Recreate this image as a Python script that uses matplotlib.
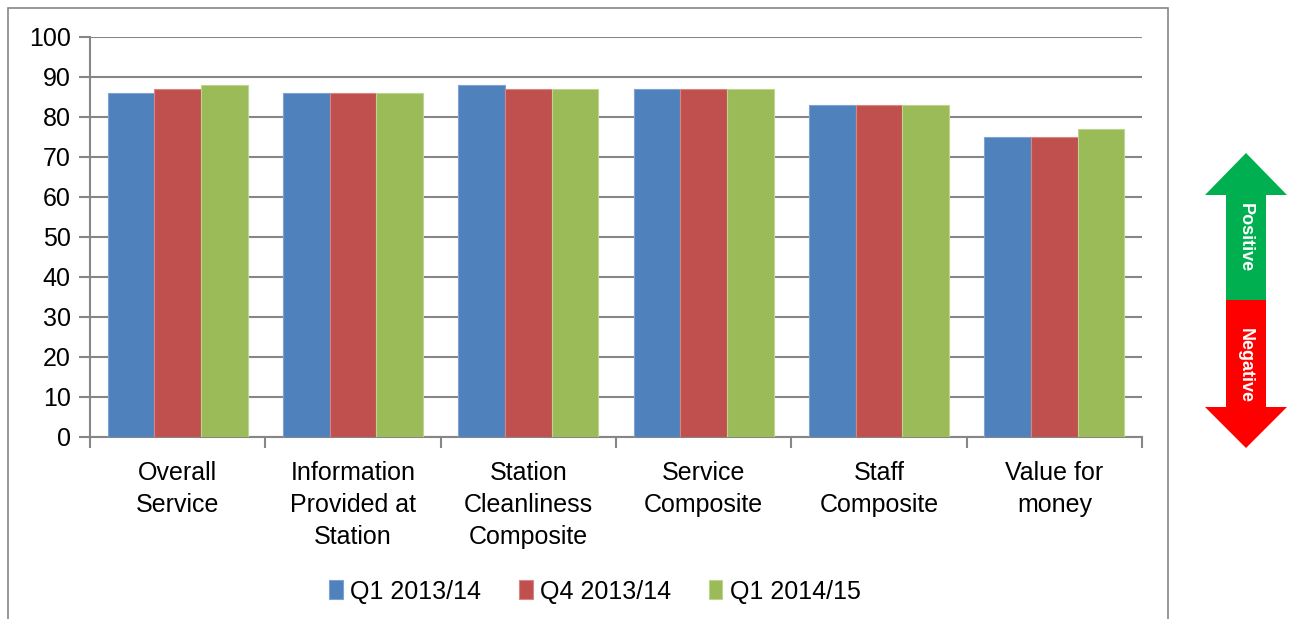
import matplotlib.pyplot as plt
import numpy as np
from matplotlib.patches import Rectangle, Polygon

categories = ['Overall\nService', 'Information\nProvided at\nStation', 'Station\nCleanliness\nComposite',
              'Service\nComposite', 'Staff\nComposite', 'Value for\nmoney']
series_names = ['Q1 2013/14', 'Q4 2013/14', 'Q1 2014/15']
q1_1314 = [86, 86, 88, 87, 83, 75]
q4_1314 = [87, 86, 87, 87, 83, 75]
q1_1415 = [88, 86, 87, 87, 83, 77]
colors = ['#4F81BD', '#C0504D', '#9BBB59']
edges = ['#7FA3D1', '#D98583', '#BDD68F']

plt.rcParams['font.family'] = ['Liberation Sans', 'DejaVu Sans']

fig = plt.figure(figsize=(12.94, 6.19), dpi=100)
# chart border
fig.patches.append(Rectangle((8 / 1294, -0.05), 1160 / 1294, 1.05 - 8 / 619,
                             transform=fig.transFigure, fill=False,
                             edgecolor='#868686', linewidth=1.2))

ax = fig.add_axes([90 / 1294, 1 - 437 / 619, 1052 / 1294, 400 / 619])
x = np.arange(len(categories))
w = 0.8 / 3
for i, vals in enumerate([q1_1314, q4_1314, q1_1415]):
    ax.bar(x + (i - 1) * w, vals, w, color=colors[i], edgecolor=edges[i],
           linewidth=0.8, label=series_names[i], zorder=3)

ax.set_xlim(-0.5, len(categories) - 0.5)
ax.set_ylim(0, 100)
ax.set_yticks(range(0, 101, 10))
ax.yaxis.grid(True, color='#868686', linewidth=1.5, zorder=0)
for s in ['top', 'right']:
    ax.spines[s].set_visible(False)
for s in ['left', 'bottom']:
    ax.spines[s].set_color('#868686')
    ax.spines[s].set_linewidth(1.5)
ax.tick_params(axis='y', labelsize=18, length=8, width=1.5, color='#868686', pad=6)
ax.set_xticks(x)
ax.set_xticklabels(categories, fontsize=18, linespacing=1.42)
ax.tick_params(axis='x', length=0, pad=17)
ax.set_xticks(np.arange(-0.5, len(categories)), minor=True)
ax.tick_params(axis='x', which='minor', length=8, width=1.5, color='#868686')

ax.legend(loc='upper center', bbox_to_anchor=(0.48, -0.30), ncol=3, frameon=False,
          fontsize=18, handlelength=0.55, handleheight=0.8, handletextpad=0.3,
          columnspacing=1.5)

# positive / negative arrow
def fx(px):
    return px / 1294

def fy(py):
    return 1 - py / 619

up = Polygon([(fx(1226), fy(300)), (fx(1226), fy(195)), (fx(1205), fy(195)),
              (fx(1246), fy(153)), (fx(1287), fy(195)), (fx(1266), fy(195)),
              (fx(1266), fy(300))], closed=True, transform=fig.transFigure,
             facecolor='#00B050', edgecolor='none')
down = Polygon([(fx(1226), fy(300)), (fx(1226), fy(407)), (fx(1205), fy(407)),
                (fx(1246), fy(448)), (fx(1287), fy(407)), (fx(1266), fy(407)),
                (fx(1266), fy(300))], closed=True, transform=fig.transFigure,
               facecolor='#FF0000', edgecolor='none')
fig.patches.extend([up, down])
fig.text(fx(1245), fy(238), 'Positive', rotation=-90, color='white', fontsize=13,
         fontweight='bold', ha='center', va='center')
fig.text(fx(1245), fy(366), 'Negative', rotation=-90, color='white', fontsize=13,
         fontweight='bold', ha='center', va='center')

fig.savefig('out.png', dpi=100)
